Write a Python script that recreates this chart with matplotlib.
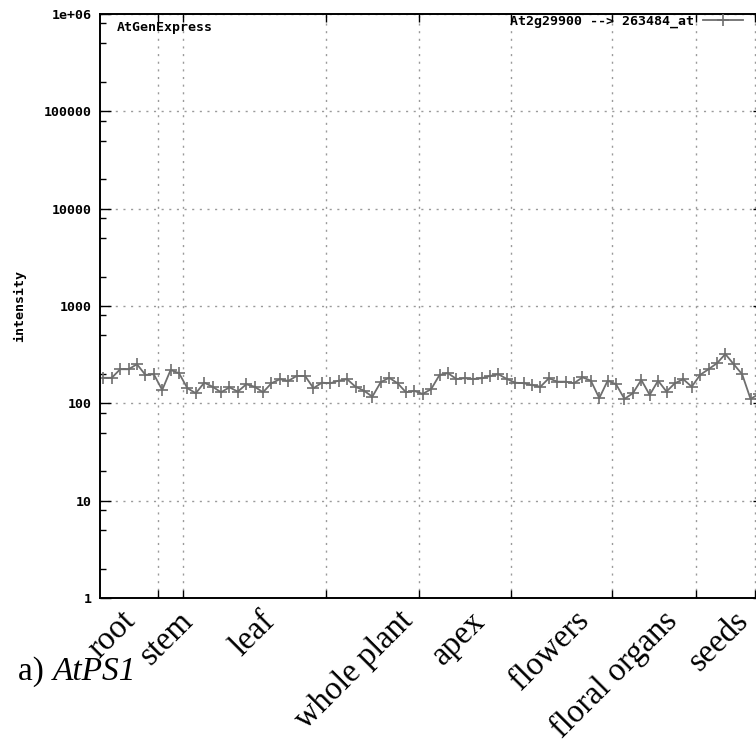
import matplotlib
matplotlib.use("Agg")
import matplotlib.pyplot as plt
from matplotlib.transforms import blended_transform_factory
from matplotlib.ticker import LogLocator, NullFormatter, FixedLocator

# expression values (one per array sample)
intensity = [183, 183, 224, 224, 252, 196, 199,
             137, 220, 204,
             143, 127, 163, 148, 130, 146, 132, 157, 148, 130, 161, 177, 170, 191, 191, 143, 163,
             161, 171, 177, 148, 135, 117, 165, 183, 161, 130, 134,
             125, 140, 196, 204, 178, 181, 178, 181, 191, 199, 178,
             163, 161, 154, 148, 181, 167, 167, 161, 185, 171, 113, 171,
             157, 111, 127, 174, 122, 171, 132, 161, 177, 148,
             196, 224, 258, 321, 252, 199, 111, 125]
samples = list(range(len(intensity)))

# tissue group boundaries (between samples) and group names
boundaries = [6.5, 9.5, 26.5, 37.5, 48.5, 60.5, 70.5, 77.5]
tissues = ["root", "stem", "leaf", "whole plant", "apex", "flowers", "floral organs", "seeds"]
label_x = [2.0, 8.8, 18.6, 35.0, 43.6, 55.9, 66.4, 74.9]

yticks = [1, 10, 100, 1000, 10000, 100000, 1000000]
yticklabels = ["1", "10", "100", "1000", "10000", "100000", "1e+06"]

mono = {"family": "DejaVu Sans Mono", "weight": "bold", "size": 9.5}

fig = plt.figure(figsize=(7.56, 7.49), dpi=100)
ax = fig.add_axes([100 / 756, 151 / 749, 664 / 756, 584 / 749])

ax.plot(samples, intensity, color="#6e6e6e", lw=1.3, marker="+", ms=8, mew=1.2,
        label="At2g29900 --> 263484_at")

ax.set_yscale("log")
ax.set_ylim(1, 1e6)
ax.set_xlim(-0.4, 78.6)

ax.set_yticks(yticks)
ax.set_yticklabels(yticklabels, fontdict=mono)
ax.yaxis.set_minor_locator(LogLocator(base=10, subs=[2, 5, 8], numticks=20))
ax.yaxis.set_minor_formatter(NullFormatter())
ax.tick_params(axis="y", which="major", direction="in", length=8, width=1, pad=6, right=True)
ax.tick_params(axis="y", which="minor", direction="in", length=4, width=1, right=True)

ax.xaxis.set_major_locator(FixedLocator(boundaries))
ax.set_xticklabels([])
ax.tick_params(axis="x", which="major", direction="in", length=6, width=1, top=True)

ax.grid(True, which="major", color="#9a9a9a", linestyle=(0, (1.5, 4)), lw=1)

for s in ax.spines.values():
    s.set_linewidth(1.4)

ax.set_ylabel("intensity", fontdict=mono)
ax.yaxis.set_label_coords(-0.112, 0.5)

ax.text(0.026, 0.988, "AtGenExpress", transform=ax.transAxes, ha="left", va="top", fontdict=mono)

leg = ax.legend(loc="upper right", bbox_to_anchor=(743 / 756, 734 / 749), bbox_transform=fig.transFigure,
                frameon=False, markerfirst=False, handlelength=3.0, handletextpad=0.7,
                borderaxespad=0, borderpad=0,
                prop={"family": "DejaVu Sans Mono", "weight": "bold", "size": 9.5})

# rotated tissue names under the axis
trans = blended_transform_factory(ax.transData, ax.transAxes)
for x, name in zip(label_x, tissues):
    ax.text(x, -0.013, name, transform=trans, rotation=45, rotation_mode="anchor",
            ha="right", va="top", family="Liberation Serif", fontsize=23.5, clip_on=False)

fig.text(18 / 756, 69 / 749, "a) ", family="Liberation Serif", fontsize=24, va="baseline", ha="left")
fig.text(53 / 756, 69 / 749, "AtPS1", family="Liberation Serif", style="italic", fontsize=24,
         va="baseline", ha="left")

fig.savefig("out.png", dpi=100)
